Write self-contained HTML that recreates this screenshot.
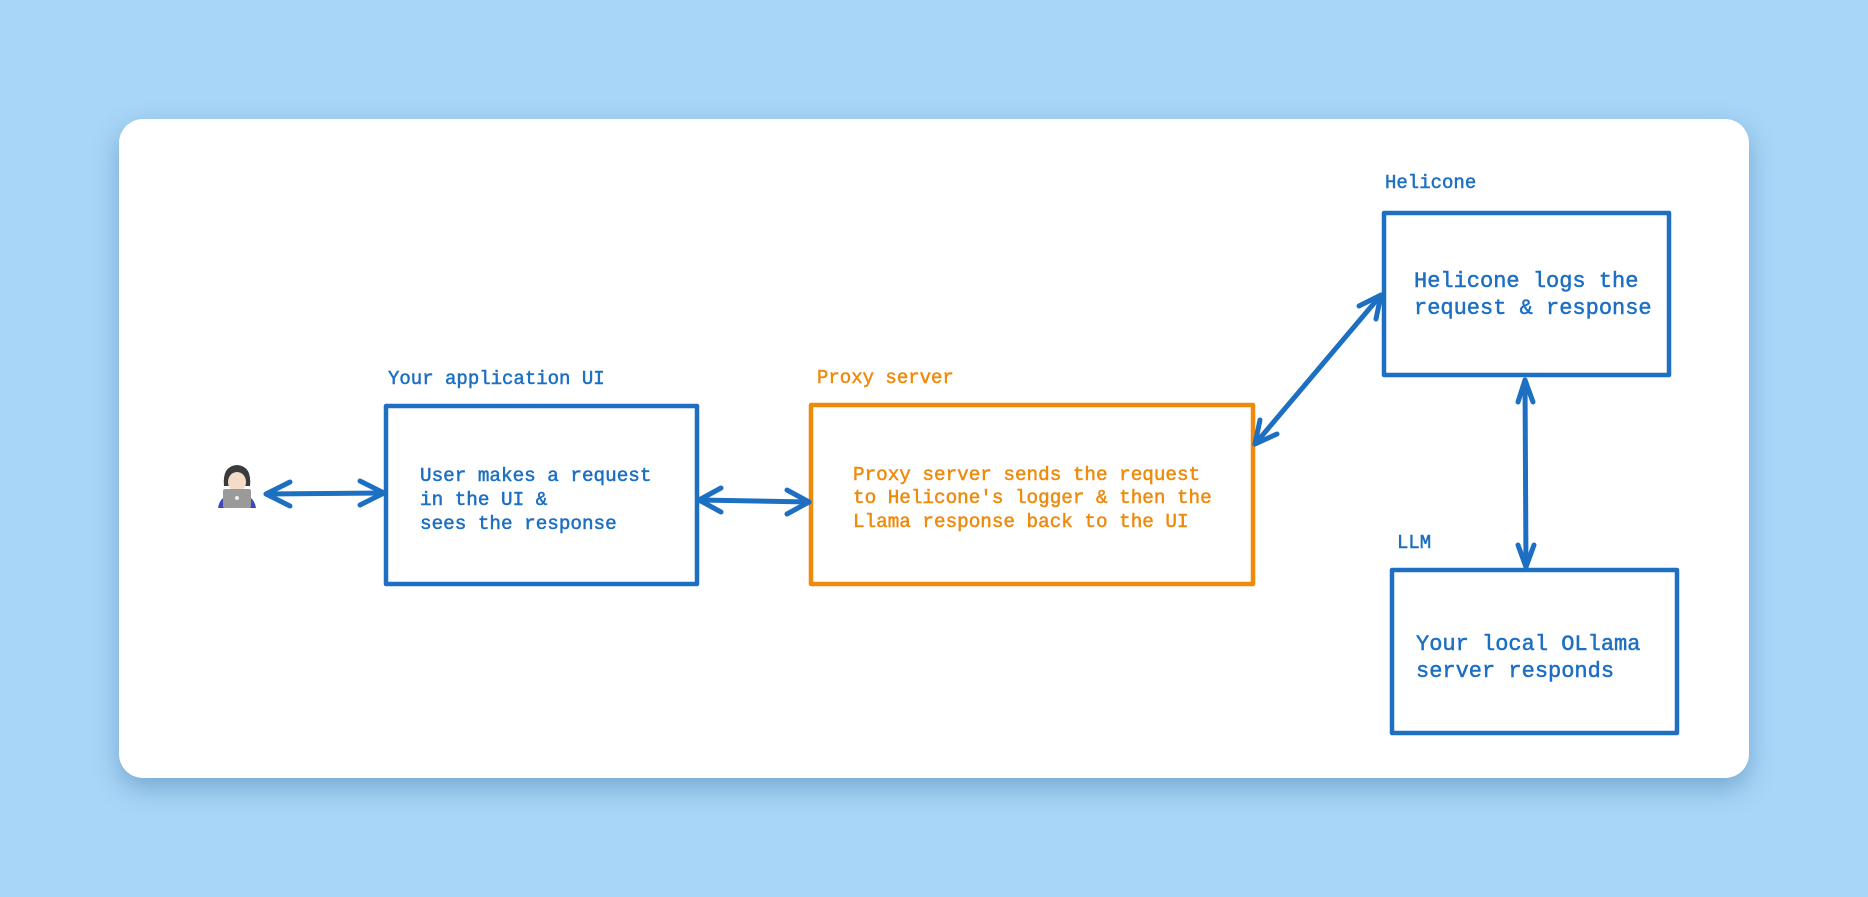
<!DOCTYPE html>
<html><head><meta charset="utf-8"><style>
html,body{margin:0;padding:0;width:1868px;height:897px;overflow:hidden;background:#a8d6f8;}
.card{position:absolute;left:119px;top:119px;width:1630px;height:659px;background:#fff;border-radius:24px;box-shadow:0 10px 26px rgba(60,110,160,0.45);}
svg{position:absolute;left:0;top:0;}
text{font-family:"Liberation Mono","DejaVu Sans Mono",monospace;stroke-width:0.5;}
</style></head><body>
<div class="card"></div>
<svg width="1868" height="897" viewBox="0 0 1868 897">
<g fill="none" stroke-width="4.5" stroke-linejoin="round">
<rect x="386" y="406" width="311" height="178" stroke="#1d6fc2"/>
<rect x="811" y="405" width="442" height="179" stroke="#ee8a0c"/>
<rect x="1384" y="213" width="285" height="162" stroke="#1d6fc2"/>
<rect x="1392" y="570" width="285" height="163" stroke="#1d6fc2"/>
</g>
<g stroke="#1d6fc2" stroke-width="5" stroke-linecap="round" fill="none">
<line x1="266" y1="494" x2="384" y2="493"/>
<path d="M266 494 L290 482 M266 494 L290 506"/>
<path d="M384 493 L360 481 M384 493 L360 505"/>
<line x1="699" y1="500" x2="809" y2="502"/>
<path d="M699 500 L721 488 M699 500 L721 512"/>
<path d="M809 502 L787 490 M809 502 L787 514"/>
<line x1="1255" y1="444" x2="1381" y2="295"/>
<path d="M1255 444 L1260 420 M1255 444 L1277 434"/>
<path d="M1381 295 L1359 306 M1381 295 L1376 319"/>
<line x1="1525" y1="380" x2="1526" y2="567"/>
<path d="M1525 380 L1518 402 M1525 380 L1533 402"/>
<path d="M1526 567 L1518 545 M1526 567 L1534 545"/>
</g>
<g>
<path d="M224 486 Q222 466 237 465 Q252 466 250 486 Z" fill="#3b3b3b"/>
<ellipse cx="237" cy="482" rx="9" ry="10" fill="#f3dcc8"/>
<path d="M218 508 Q220 494 237 494 Q254 494 256 508 Z" fill="#3b49c0"/>
<rect x="223" y="489" width="28" height="19" rx="2" fill="#9a9a9a"/>
<circle cx="237" cy="498" r="2" fill="#eee"/>
</g>
<g font-size="19" fill="#1d6fc2" stroke="#1d6fc2">
<text x="388" y="384">Your application UI</text>
<text x="1385" y="188">Helicone</text>
<text x="1397" y="548">LLM</text>
</g>
<text x="817" y="383" font-size="19" fill="#ee8a0c" stroke="#ee8a0c">Proxy server</text>
<g font-size="19.3" fill="#1d6fc2" stroke="#1d6fc2">
<text x="420" y="481">User makes a request</text>
<text x="420" y="505">in the UI &amp;</text>
<text x="420" y="529">sees the response</text>
</g>
<g font-size="19.3" fill="#ee8a0c" stroke="#ee8a0c">
<text x="853" y="480">Proxy server sends the request</text>
<text x="853" y="503">to Helicone's logger &amp; then the</text>
<text x="853" y="527">Llama response back to the UI</text>
</g>
<g font-size="22" fill="#1d6fc2" stroke="#1d6fc2">
<text x="1414" y="287">Helicone logs the</text>
<text x="1414" y="314">request &amp; response</text>
<text x="1416" y="650">Your local OLlama</text>
<text x="1416" y="677">server responds</text>
</g>
</svg>
</body></html>
